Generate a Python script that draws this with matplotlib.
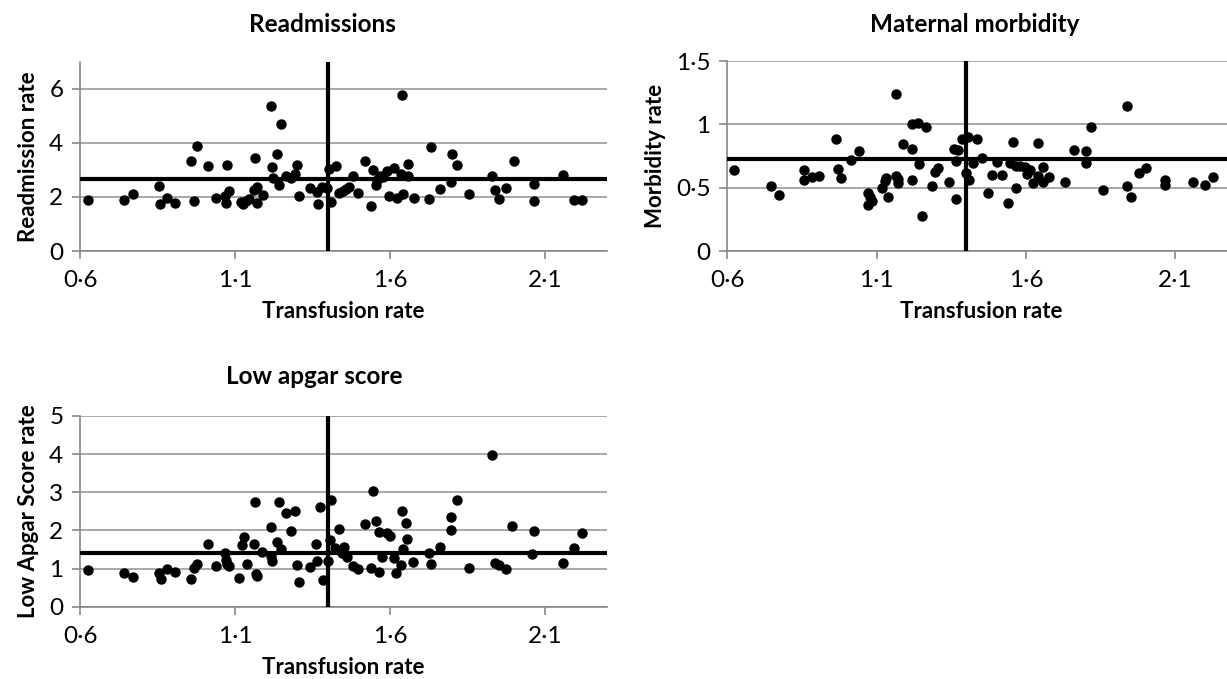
import numpy as np
from matplotlib import pyplot as plt

plt.rcParams['font.family'] = ['Lato', 'DejaVu Sans']

# Readmissions (transfusion rate, readmission rate)
readm_x = [0.625, 0.743, 0.772, 0.856, 0.858, 0.882, 0.905, 0.959, 0.977, 0.967,
           1.014, 1.039, 1.074, 1.069, 1.071, 1.082, 1.118, 1.127, 1.135, 1.146,
           1.166, 1.161, 1.170, 1.172, 1.189, 1.215, 1.247, 1.218, 1.237, 1.222,
           1.241, 1.265, 1.282, 1.295, 1.299, 1.305, 1.342, 1.363, 1.367, 1.380,
           1.398, 1.404, 1.426, 1.409, 1.437, 1.447, 1.458, 1.469, 1.482, 1.498,
           1.519, 1.539, 1.544, 1.555, 1.559, 1.568, 1.576, 1.591, 1.598, 1.613,
           1.622, 1.635, 1.643, 1.639, 1.658, 1.658, 1.679, 1.725, 1.732, 1.762,
           1.797, 1.801, 1.815, 1.855, 1.930, 1.938, 1.950, 1.973, 2.000, 2.063,
           2.063, 2.157, 2.194, 2.219]
readm_y = [1.90, 1.90, 2.12, 2.39, 1.73, 1.96, 1.78, 3.31, 3.88, 1.86,
           3.14, 1.96, 3.19, 2.03, 1.78, 2.23, 1.81, 1.75, 1.85, 1.94,
           3.43, 2.24, 2.37, 1.78, 2.08, 5.36, 4.71, 3.10, 3.57, 2.70,
           2.45, 2.78, 2.70, 2.86, 3.19, 2.03, 2.34, 2.18, 1.72, 2.37,
           2.34, 3.04, 3.14, 1.81, 2.14, 2.22, 2.30, 2.37, 2.79, 2.14,
           3.32, 1.65, 3.00, 2.43, 2.61, 2.79, 2.73, 2.95, 2.02, 3.08,
           1.97, 2.86, 2.10, 5.76, 3.22, 2.76, 1.97, 1.91, 3.84, 2.28,
           2.55, 3.59, 3.19, 2.11, 2.79, 2.24, 1.91, 2.33, 3.32, 2.46,
           1.85, 2.81, 1.90, 1.90]
readm_mean = 2.67

# Maternal morbidity
morb_x = [0.623, 0.745, 0.773, 0.857, 0.857, 0.884, 0.907, 0.963, 0.970, 0.981,
          1.014, 1.041, 1.072, 1.078, 1.072, 1.083, 1.119, 1.128, 1.133, 1.139,
          1.165, 1.165, 1.170, 1.173, 1.189, 1.217, 1.220, 1.220, 1.240, 1.243,
          1.251, 1.264, 1.284, 1.295, 1.307, 1.343, 1.360, 1.371, 1.366, 1.366,
          1.385, 1.407, 1.399, 1.410, 1.424, 1.437, 1.452, 1.472, 1.485, 1.502,
          1.519, 1.541, 1.545, 1.558, 1.566, 1.566, 1.580, 1.597, 1.603, 1.614,
          1.625, 1.640, 1.642, 1.656, 1.658, 1.677, 1.731, 1.761, 1.801, 1.801,
          1.817, 1.857, 1.938, 1.940, 1.951, 1.977, 2.001, 2.067, 2.064, 2.161,
          2.198, 2.226]
morb_y = [0.639, 0.513, 0.442, 0.639, 0.561, 0.587, 0.595, 0.887, 0.647, 0.579,
          0.718, 0.789, 0.461, 0.429, 0.363, 0.397, 0.500, 0.555, 0.574, 0.429,
          1.237, 0.592, 0.568, 0.534, 0.842, 0.561, 0.805, 1.003, 1.013, 0.684,
          0.276, 0.982, 0.513, 0.621, 0.653, 0.542, 0.805, 0.797, 0.411, 0.713,
          0.882, 0.903, 0.613, 0.561, 0.692, 0.884, 0.732, 0.455, 0.603, 0.700,
          0.603, 0.382, 0.697, 0.858, 0.500, 0.671, 0.671, 0.666, 0.608, 0.639,
          0.539, 0.850, 0.592, 0.666, 0.542, 0.582, 0.547, 0.797, 0.789, 0.692,
          0.982, 0.482, 1.145, 0.516, 0.429, 0.618, 0.658, 0.561, 0.521, 0.547,
          0.524, 0.587]
morb_mean = 0.73

# Low apgar score
apgar_x = [0.625, 0.743, 0.772, 0.856, 0.860, 0.882, 0.905, 0.959, 0.967, 0.978,
           1.014, 1.039, 1.069, 1.071, 1.075, 1.082, 1.114, 1.122, 1.129, 1.140,
           1.166, 1.161, 1.168, 1.170, 1.188, 1.216, 1.215, 1.218, 1.241, 1.235,
           1.248, 1.264, 1.280, 1.295, 1.299, 1.306, 1.342, 1.361, 1.363, 1.374,
           1.385, 1.409, 1.405, 1.401, 1.423, 1.437, 1.450, 1.444, 1.460, 1.481,
           1.498, 1.519, 1.539, 1.544, 1.555, 1.563, 1.563, 1.573, 1.591, 1.600,
           1.613, 1.619, 1.635, 1.640, 1.643, 1.650, 1.654, 1.675, 1.725, 1.732,
           1.761, 1.797, 1.797, 1.815, 1.855, 1.930, 1.938, 1.950, 1.973, 1.995,
           2.063, 2.057, 2.159, 2.194, 2.219]
apgar_y = [0.962, 0.892, 0.787, 0.874, 0.717, 0.988, 0.918, 0.717, 1.005, 1.119,
           1.635, 1.066, 1.399, 1.224, 1.119, 1.075, 0.743, 1.617, 1.818, 1.119,
           2.736, 1.635, 0.857, 0.804, 1.425, 2.098, 1.329, 1.206, 2.736, 1.687,
           1.512, 2.448, 1.993, 2.509, 1.093, 0.638, 1.049, 1.635, 1.206, 2.622,
           0.699, 2.797, 1.748, 1.198, 1.530, 2.037, 1.556, 1.399, 1.311, 1.075,
           0.988, 2.159, 1.023, 3.033, 2.247, 1.949, 0.918, 1.311, 1.941, 1.853,
           1.267, 0.874, 1.093, 2.517, 1.503, 2.185, 1.774, 1.180, 1.416, 1.119,
           1.556, 2.360, 2.010, 2.797, 1.005, 3.977, 1.136, 1.093, 0.988, 2.124,
           1.984, 1.372, 1.136, 1.547, 1.923]
apgar_mean = 1.40

mean_transfusion = 1.40
x_ticks = [0.6, 1.1, 1.6, 2.1]
x_labels = ['0·6', '1·1', '1·6', '2·1']

W, H = 1227, 679
fig = plt.figure(figsize=(W / 100, H / 100), dpi=100)


def px_axes(left, top, right, bottom):
    return fig.add_axes([left / W, 1 - bottom / H, (right - left) / W, (bottom - top) / H])


def style(ax, yticks, ylabels, ymax, ylabel):
    ax.set_xlim(0.6, 2.3)
    ax.set_ylim(0, ymax)
    ax.set_xticks(x_ticks)
    ax.set_xticklabels(x_labels)
    ax.set_yticks(yticks)
    ax.set_yticklabels(ylabels)
    for s in ['top', 'right']:
        ax.spines[s].set_visible(False)
    for s in ['left', 'bottom']:
        ax.spines[s].set_color('#888888')
        ax.spines[s].set_linewidth(1.2)
    ax.tick_params(axis='both', colors='#888888', labelcolor='black', labelsize=17.5,
                   length=6, width=1.2)
    ax.tick_params(axis='x', pad=8)
    ax.tick_params(axis='y', pad=6)
    ax.grid(axis='y', color='#999999', linewidth=1.2)
    ax.set_axisbelow(True)
    ax.set_xlabel('Transfusion rate', fontsize=16, fontweight='bold', labelpad=7)
    ax.set_ylabel(ylabel, fontsize=16, fontweight='bold', labelpad=7)


def draw(ax, xs, ys, mean_y):
    ax.axvline(mean_transfusion, color='black', linewidth=3, zorder=3)
    ax.axhline(mean_y, color='black', linewidth=3, zorder=3)
    ax.plot(xs, ys, 'o', color='black', markersize=6.5, zorder=4, clip_on=False)


ax1 = px_axes(80, 61.7, 607, 251)
draw(ax1, readm_x, readm_y, readm_mean)
style(ax1, [0, 2, 4, 6], ['0', '2', '4', '6'], 7, 'Readmission rate')

ax2 = px_axes(727.3, 61, 1235, 251)
draw(ax2, morb_x, morb_y, morb_mean)
style(ax2, [0, 0.5, 1, 1.5], ['0', '0·5', '1', '1·5'], 1.5, 'Morbidity rate')

ax3 = px_axes(80, 416, 607, 606.7)
draw(ax3, apgar_x, apgar_y, apgar_mean)
style(ax3, [0, 1, 2, 3, 4, 5], ['0', '1', '2', '3', '4', '5'], 5, 'Low Apgar Score rate')

fig.text(322 / W, 1 - 24 / H, 'Readmissions', ha='center', va='center',
         fontsize=17.5, fontweight='bold')
fig.text(975 / W, 1 - 24 / H, 'Maternal morbidity', ha='center', va='center',
         fontsize=17.5, fontweight='bold')
fig.text(314 / W, 1 - 376 / H, 'Low apgar score', ha='center', va='center',
         fontsize=17.5, fontweight='bold')

fig.savefig('out.png', dpi=100)
